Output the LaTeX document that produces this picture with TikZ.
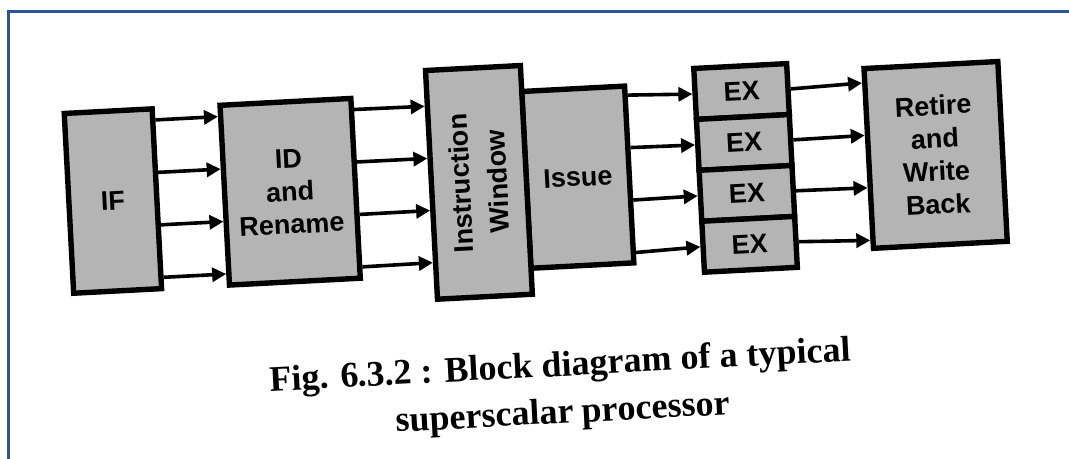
\documentclass[tikz,border=0pt]{standalone}
\usepackage{fontspec}
\setmainfont{Liberation Serif}
\newfontfamily\boxfont{Liberation Sans}
\usetikzlibrary{arrows.meta,calc}
\definecolor{frameblue}{RGB}{47,84,150}
\definecolor{boxgray}{RGB}{180,180,180}
\tikzset{
  blk/.style={draw=black, line width=2.7pt, fill=boxgray, inner sep=0pt,
    font=\boxfont\bfseries\fontsize{13.5}{16.5}\selectfont, align=center},
  lbl/.style={inner sep=0pt, font=\boxfont\bfseries\fontsize{13.5}{18.5}\selectfont, align=center},
  arr/.style={line width=1.8pt, -{Triangle[length=7pt,width=7pt]}},
  captext/.style={inner sep=0pt, align=center, font=\bfseries\fontsize{18}{23.5}\selectfont}
}
\begin{document}
\begin{tikzpicture}[x=0.5pt,y=-0.5pt]
\useasboundingbox (0,0) rectangle (1069,459);
\draw[frameblue, line width=1.5pt] (8,459) -- (8,12) -- (1069,12);
\begin{scope}[rotate around={3:(535,230)}, transform shape]
  \node[blk, minimum width=44pt, minimum height=90pt] (IF) at (115,179) {IF};
  \node[blk, minimum width=65.5pt, minimum height=90pt] (ID) at (292.5,179) {ID\\and\\Rename};
  \node[blk, minimum width=51.5pt, minimum height=88.5pt] (IS) at (580.5,179.5) {Issue};
  \node[blk, minimum width=47.5pt, minimum height=114.5pt] (IW) at (481.5,179.5) {};
  \node[lbl, rotate=90] (IWt) at (IW) {Instruction\\Window};
  \foreach \i/\y in {1/102.5,2/153.5,3/204.5,4/255.5}
    \node[blk, minimum width=46.5pt, minimum height=25.5pt] (EX\i) at (748.5,\y) {EX};
  \node[blk, minimum width=67pt, minimum height=90pt] (RW) at (939,176) {Retire\\and\\Write\\Back};
  \foreach \f in {0.075,0.3583,0.6417,0.925}
    \draw[arr] ($(IF.north east)!\f!(IF.south east)$) -- ($(ID.north west)!\f!(ID.south west)$);
  \foreach \a/\b in {0.075/0.1638,0.3583/0.3865,0.6417/0.6092,0.925/0.8319}
    \draw[arr] ($(ID.north east)!\a!(ID.south east)$) -- ($(IW.north west)!\b!(IW.south west)$);
  \foreach \a/\i in {0.065/1,0.353/2,0.641/3,0.929/4}
    \draw[arr] ($(IS.north east)!\a!(IS.south east)$) -- (EX\i.west);
  \foreach \i/\b in {1/0.0917,2/0.375,3/0.658,4/0.942}
    \draw[arr] (EX\i.east) -- ($(RW.north west)!\b!(RW.south west)$);
  \node[captext] (cap) at (553,392) {Fig. 6.3.2 : Block diagram of a typical\\superscalar processor};
\end{scope}
\end{tikzpicture}
\end{document}
